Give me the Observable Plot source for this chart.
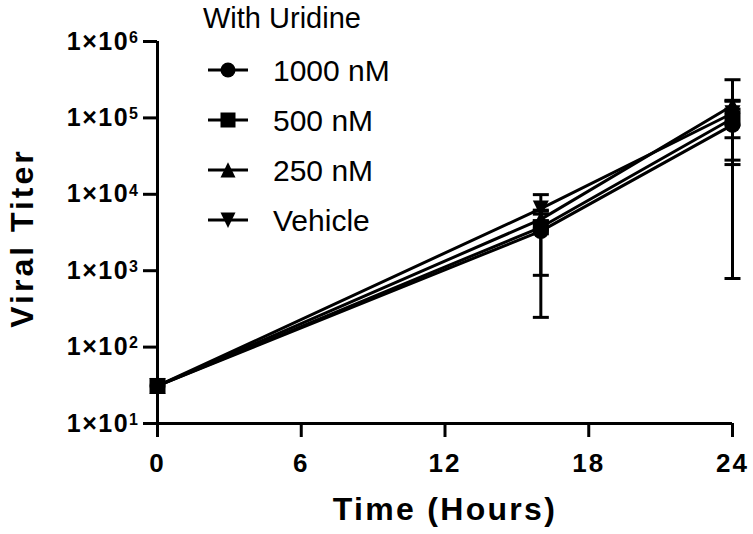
<!DOCTYPE html>
<html><head><meta charset="utf-8">
<script src="https://cdn.jsdelivr.net/npm/d3@7"></script>
<script src="https://cdn.jsdelivr.net/npm/@observablehq/plot@0.6"></script>
<style>
body{margin:0;background:#fff;}
#wrap{position:relative;width:753px;height:534px;}
g[aria-label="x-axis tick label"]{font-size:26px;font-weight:bold;letter-spacing:2px;}
g[aria-label="y-axis tick label"]{font-size:25px;font-weight:bold;letter-spacing:1.5px;}
</style></head><body><div id="wrap"></div>
<script>
// ---- data ----
const times = [0, 16, 24];
const seriesNames = ["1000 nM", "500 nM", "250 nM", "Vehicle"];
const titer1000 = [31, 3300, 81000];
const titer500 = [31, 3700, 98000];
const titer250 = [31, 4700, 145000];
const titerVehicle = [31, 6500, 115000];
const low1000 = [31, 245, 790];
const high1000 = [31, 5500, 165000];
const low500 = [31, 870, 24500];
const high500 = [31, 6000, 130000];
const low250 = [31, 3500, 55000];
const high250 = [31, 6200, 316000];
const lowVehicle = [31, 4500, 28000];
const highVehicle = [31, 9900, 170000];
const xTicks = [0, 6, 12, 18, 24];
const yTicks = [1e1, 1e2, 1e3, 1e4, 1e5, 1e6];
const legendTitle = "With Uridine";
const xLabel = "Time (Hours)";
const yLabel = "Viral Titer";

// ---- table ----
const means = [titer1000, titer500, titer250, titerVehicle];
const lows = [low1000, low500, low250, lowVehicle];
const highs = [high1000, high500, high250, highVehicle];
const rows = [];
seriesNames.forEach((s, k) => times.forEach((t, i) => rows.push({series: s, time: t, titer: means[k][i], low: lows[k][i], high: highs[k][i]})));
const errRows = rows.filter(d => d.time > 0);

// GraphPad-style symbols that all fit the same square box
const half = size => Math.sqrt(size) / 2;
const symCircle = {draw(ctx, size) { const h = half(size); ctx.moveTo(h, 0); ctx.arc(0, 0, h, 0, 2 * Math.PI); ctx.closePath(); }};
const symSquare = {draw(ctx, size) { const h = half(size); ctx.rect(-h, -h, 2 * h, 2 * h); }};
const symUp = {draw(ctx, size) { const h = half(size); ctx.moveTo(0, -h * 1.05); ctx.lineTo(h, h); ctx.lineTo(-h, h); ctx.closePath(); }};
const symDown = {draw(ctx, size) { const h = half(size); ctx.moveTo(0, h * 1.05); ctx.lineTo(h, -h); ctx.lineTo(-h, -h); ctx.closePath(); }};
const capSymbol = {draw(ctx) { ctx.moveTo(-8, 0); ctx.lineTo(8, 0); }};
const symbols = [symCircle, symSquare, symUp, symDown];
const drawOrder = [0, 2, 3, 1]; // squares last, as in the reference
const R = Math.sqrt(256 / Math.PI); // 16px box

const plot = Plot.plot({
  width: 753, height: 534,
  marginLeft: 157, marginRight: 21, marginTop: 41, marginBottom: 111,
  style: {fontFamily: "'Liberation Sans', Arial, sans-serif", background: "#fff", color: "#000"},
  x: {domain: [0, 24], axis: null, label: null},
  y: {type: "log", domain: [1e1, 1e6], axis: null, label: null},
  marks: [
    Plot.line(rows, {x: "time", y: "titer", z: "series", stroke: "#000", strokeWidth: 3}),
    Plot.ruleX(errRows, {x: "time", y1: "low", y2: "high", stroke: "#000", strokeWidth: 3}),
    Plot.dot(errRows, {x: "time", y: "low", symbol: capSymbol, r: 8, stroke: "#000", strokeWidth: 3, fill: "none"}),
    Plot.dot(errRows, {x: "time", y: "high", symbol: capSymbol, r: 8, stroke: "#000", strokeWidth: 3, fill: "none"}),
    ...drawOrder.map(k => Plot.dot(rows.filter(d => d.series === seriesNames[k]), {x: "time", y: "titer", symbol: symbols[k], r: R, fill: "#000", stroke: "none"})),
    Plot.ruleX([0], {stroke: "#000", strokeWidth: 3}),
    Plot.ruleY([10], {stroke: "#000", strokeWidth: 3}),
    Plot.axisX(xTicks, {anchor: "bottom", label: null, tickSize: 14, tickPadding: 16, strokeWidth: 3, tickFormat: d => String(d)}),
    Plot.axisY(yTicks, {anchor: "left", label: null, tickSize: 14, tickPadding: 4, strokeWidth: 3, tickFormat: d => "1×10" + Math.round(Math.log10(d))})
  ]
});
document.getElementById("wrap").appendChild(plot);

const svg = d3.select(plot);
// superscripts
svg.selectAll('g[aria-label="y-axis tick label"] text').each(function() {
  const t = d3.select(this);
  const s = t.text();
  const base = s.slice(0, -1), exp = s.slice(-1);
  t.text(null);
  t.append("tspan").text(base);
  t.append("tspan").attr("dy", "-0.42em").attr("font-size", "16px").text(exp);
});
// axis titles
svg.append("text").attr("x", 445).attr("y", 520).attr("text-anchor", "middle")
  .attr("font-size", 32).attr("font-weight", "bold").style("letter-spacing", "2.3px").text(xLabel);
svg.append("text").attr("transform", "translate(33,238) rotate(-90)").attr("text-anchor", "middle")
  .attr("font-size", 32).attr("font-weight", "bold").style("letter-spacing", "3px").text(yLabel);
// legend
const lg = svg.append("g").attr("fill", "#000").attr("text-anchor", "start");
lg.append("text").attr("x", 203).attr("y", 28).attr("font-size", 29).text(legendTitle);
seriesNames.forEach((s, k) => {
  const cy = 70 + 50 * k;
  lg.append("line").attr("x1", 208).attr("x2", 248).attr("y1", cy).attr("y2", cy).attr("stroke", "#000").attr("stroke-width", 3);
  lg.append("path").attr("transform", `translate(228,${cy})`).attr("d", d3.symbol(symbols[k], 225)());
  lg.append("text").attr("x", 273).attr("y", cy + 10.7).attr("font-size", 30).text(s);
});
</script></body></html>
